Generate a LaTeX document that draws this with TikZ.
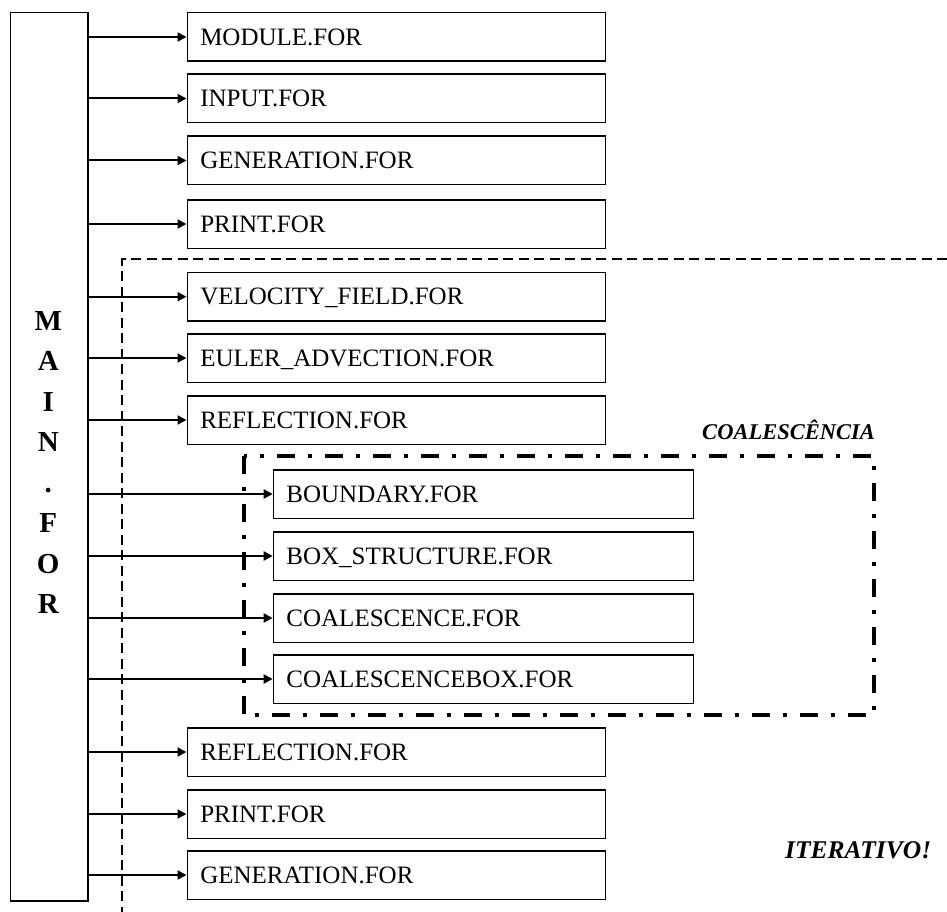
\documentclass[tikz,border=0pt]{standalone}
\usepackage{fontspec}
\setmainfont{Liberation Serif}
\usetikzlibrary{arrows.meta}
\begin{document}
\begin{tikzpicture}[x=1pt,y=-1pt,
  filebox/.style={draw, line width=1.5pt, anchor=north west, text width=392pt,
    inner xsep=13pt, inner ysep=0pt, minimum height=48.5pt, text height=16.5pt,
    text depth=0pt, align=left, font=\fontsize{25}{30}\selectfont},
  widebox/.style={filebox, text width=394pt},
  mainbox/.style={draw, line width=1.5pt, minimum width=77.5pt, minimum height=888pt,
    anchor=north west, inner sep=0pt},
  mainletter/.style={anchor=base, inner sep=0pt, font=\fontsize{29}{34}\selectfont\bfseries},
  callarrow/.style={line width=2pt, -{Triangle[length=9pt,width=9pt]}},
  iterline/.style={line width=2.4pt, dash pattern=on 10pt off 5.5pt},
  coalline/.style={line width=4pt, dash pattern=on 18pt off 13pt on 4pt off 13pt},
  tag/.style={inner sep=0pt, font=\fontsize{22.5}{27}\selectfont\bfseries\itshape}]
\useasboundingbox (0,0) rectangle (947,912);

% main program box
\node[mainbox] (main) at (9.5,12) {};
\foreach \ch [count=\k from 0] in {M,A,I,N,.,F,O,R}
  \node[mainletter] (ml\k) at (48.25,330+40.5*\k) {\ch};

% iterative region (dashed)
\coordinate (dtop) at (947,259);
\coordinate (dcorner) at (122,259);
\coordinate (dbottom) at (122,912);
\draw[iterline] (dtop) -- (dcorner) -- (dbottom);

% coalescence region (dash-dot)
\coordinate (cnw) at (243.7,455.7);
\coordinate (cse) at (874,715);
\draw[coalline] (cnw) rectangle (cse);

% file boxes
\node[filebox] (b1) at (186.5,12) {MODULE.FOR};
\node[filebox] (b2) at (186.5,73.5) {INPUT.FOR};
\node[filebox] (b3) at (186.5,135.5) {GENERATION.FOR};
\node[filebox] (b4) at (186.5,199) {PRINT.FOR};
\node[filebox] (b5) at (186.5,271.7) {VELOCITY\_FIELD.FOR};
\node[filebox] (b6) at (186.5,333) {EULER\_ADVECTION.FOR};
\node[filebox] (b7) at (186.5,395) {REFLECTION.FOR};
\node[widebox] (b8) at (272.7,469) {BOUNDARY.FOR};
\node[widebox] (b9) at (272.7,531) {BOX\_STRUCTURE.FOR};
\node[widebox] (b10) at (272.7,593) {COALESCENCE.FOR};
\node[widebox] (b11) at (272.7,654) {COALESCENCEBOX.FOR};
\node[filebox] (b12) at (186.5,727) {REFLECTION.FOR};
\node[filebox] (b13) at (186.5,789) {PRINT.FOR};
\node[filebox] (b14) at (186.5,850) {GENERATION.FOR};

% calls
\foreach \i in {1,...,14}
  \draw[callarrow] (main.east |- b\i.west) -- (b\i.west);

% labels
\node[tag, anchor=base east] (coal) at (875,439) {COALESCÊNCIA};
\node[tag, anchor=base west, font=\fontsize{25.5}{30}\selectfont\bfseries\itshape] (iter) at (785,858) {ITERATIVO!};
\end{tikzpicture}
\end{document}
